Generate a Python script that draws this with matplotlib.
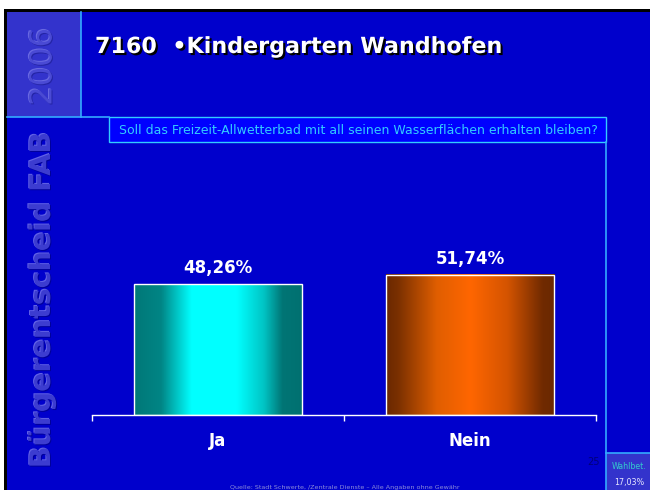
import numpy as np
import matplotlib
matplotlib.use("Agg")
import matplotlib.pyplot as plt
import matplotlib.patheffects as pe
from matplotlib.colors import LinearSegmentedColormap
from matplotlib.patches import Rectangle

# ---- data ----
categories = ["Ja", "Nein"]
values = [48.26, 51.74]
value_labels = ["48,26%", "51,74%"]
title_text = "7160  \u2022Kindergarten Wandhofen"
question_text = "Soll das Freizeit-Allwetterbad mit all seinen Wasserflächen erhalten bleiben?"
side_text = "Bürgerentscheid FAB"
year_text = "2006"
turnout_label = "Wahlbet."
turnout_value = "17,03%"
page_number = "25"
source_text = "Quelle: Stadt Schwerte, /Zentrale Dienste \u2013 Alle Angaben ohne Gewähr"

W, H = 650, 490
fig = plt.figure(figsize=(W / 100, H / 100), dpi=100)
fig.patch.set_facecolor("white")

# background axes in pixel coordinates
bg = fig.add_axes([0, 0, 1, 1])
bg.set_xlim(0, W)
bg.set_ylim(H, 0)
bg.axis("off")

BG = "#0000cc"
LIGHT = "#3333cc"
LINE = "#33aaff"

bg.add_patch(Rectangle((4, 9), W + 10, H + 10, facecolor="black", edgecolor="none"))
bg.add_patch(Rectangle((7, 12), W + 10, H + 10, facecolor=BG, edgecolor="none"))
# top-left year box
bg.add_patch(Rectangle((7, 12), 74, 105, facecolor=LIGHT, edgecolor="none"))
# bottom-right turnout box
bg.add_patch(Rectangle((606, 453), 60, 50, facecolor=LIGHT, edgecolor="none"))
# lines
bg.plot([81, 81], [12, 117], color=LINE, lw=1.2)
bg.plot([7, 109], [117, 117], color=LINE, lw=1.2)
bg.plot([606, 606], [142, 495], color=LINE, lw=1.2)
bg.plot([606, 655], [453, 453], color=LINE, lw=1.2)
# question box
bg.add_patch(Rectangle((109, 117), 497, 25, facecolor="#0000ff", edgecolor="#33ccff", lw=1.0))
bg.text(358, 130, question_text, color="#33ccff", fontsize=9, ha="center", va="center",
        family="DejaVu Sans")

# title with shadow
bg.text(95, 47, title_text, color="white", fontsize=16, fontweight="bold", ha="left", va="center",
        family="DejaVu Sans",
        path_effects=[pe.SimplePatchShadow(offset=(1.5, -1.5), shadow_rgbFace="black", alpha=1),
                      pe.Normal()])

# embossed side texts
emb = [pe.SimplePatchShadow(offset=(-0.7, 0.7), shadow_rgbFace="#6262e6", alpha=1),
       pe.SimplePatchShadow(offset=(0.7, -0.7), shadow_rgbFace="#00009a", alpha=1),
       pe.Normal()]
bg.text(42, 300, side_text, color="#3c3cd0", fontsize=20.5, fontweight="bold", rotation=90,
        ha="center", va="center", family="DejaVu Sans", path_effects=emb)
emb2 = [pe.SimplePatchShadow(offset=(-0.7, 0.7), shadow_rgbFace="#6a6ae2", alpha=1),
        pe.SimplePatchShadow(offset=(0.7, -0.7), shadow_rgbFace="#2424a6", alpha=1),
        pe.Normal()]
bg.text(43, 67, year_text, color="#4a4ad4", fontsize=22, rotation=90,
        ha="center", va="center", family="DejaVu Sans", path_effects=emb2)

# small texts
bg.text(629, 466, turnout_label, color="#33cccc", fontsize=5.7, ha="center", va="center")
bg.text(629, 482, turnout_value, color="#e6e6ff", fontsize=5.8, ha="center", va="center")
bg.text(593, 462, page_number, color="#00007a", fontsize=7, ha="center", va="center")
bg.text(345, 485, source_text, color="#8c8cd9", fontsize=4.6, ha="center", va="top")

# ---- chart axes ----
px_per_unit = 130.7 / 48.26
ymax = 60
ax_bottom_px = 415
ax_top_px = ax_bottom_px - ymax * px_per_unit
ax = fig.add_axes([92 / W, 1 - ax_bottom_px / H, (596 - 92) / W, (ax_bottom_px - ax_top_px) / H])
ax.patch.set_alpha(0)

x = np.arange(len(categories))
bars = ax.bar(x, values, width=0.667, facecolor="none", edgecolor="white", linewidth=1.0, zorder=3)

teal = LinearSegmentedColormap.from_list(
    "teal", [(0, "#007878"), (0.16, "#008585"), (0.34, "#00ffff"), (0.61, "#00ffff"),
             (0.77, "#00c4c4"), (0.88, "#007575"), (1, "#007070")])
orange = LinearSegmentedColormap.from_list(
    "orng", [(0, "#6a2800"), (0.07, "#7a3000"), (0.3, "#e05e00"), (0.5, "#ff6600"),
             (0.72, "#d45400"), (0.93, "#702a00"), (1, "#6a2800")])
grad = np.linspace(0, 1, 256).reshape(1, -1)
for bar, cmap in zip(bars, [teal, orange]):
    x0, y0 = bar.get_x(), bar.get_y()
    ax.imshow(grad, cmap=cmap, aspect="auto", extent=[x0, x0 + bar.get_width(), y0, y0 + bar.get_height()],
              zorder=2, interpolation="bilinear")

for xi, v, lab in zip(x, values, value_labels):
    ax.annotate(lab, (xi, v), xytext=(0, 5), textcoords="offset points", ha="center", va="bottom",
                color="white", fontsize=12, fontweight="bold")

ax.set_xlim(-0.5, 1.5)
ax.set_ylim(0, ymax)
for s in ["top", "right", "left"]:
    ax.spines[s].set_visible(False)
ax.spines["bottom"].set_color("white")
ax.spines["bottom"].set_linewidth(1.0)
ax.set_yticks([])
ax.set_xticks(x)
ax.set_xticklabels(categories, color="white", fontsize=12, fontweight="bold")
ax.tick_params(axis="x", which="major", length=0, pad=12)
ax.set_xticks([-0.5, 0.5, 1.5], minor=True)
ax.tick_params(axis="x", which="minor", length=4.5, width=1.0, color="white", direction="out")

fig.savefig("out.png", dpi=100)
